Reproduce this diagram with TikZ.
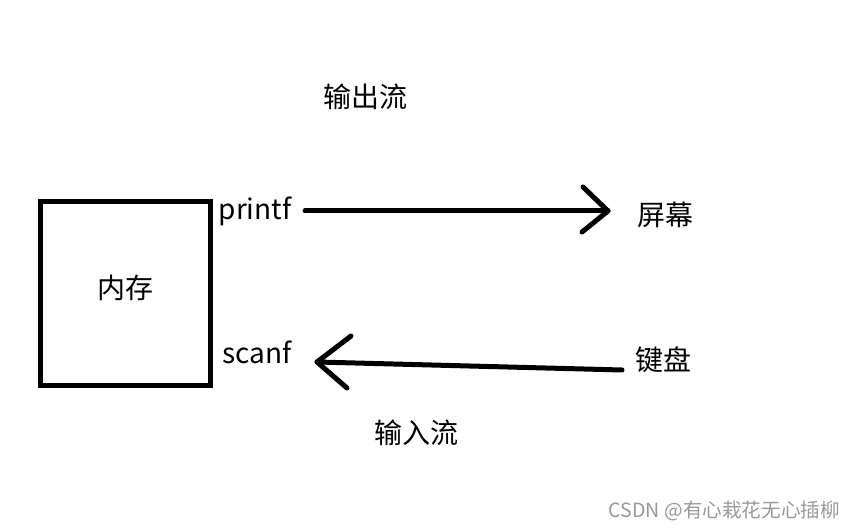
\documentclass[tikz,border=0pt]{standalone}
\usepackage{fontspec}
\setmainfont{Noto Sans CJK SC}
\begin{document}
\begin{tikzpicture}[x=1pt,y=-1pt,
  lbl/.style={inner sep=0pt,font=\fontsize{28}{30}\selectfont},
  wm/.style={inner sep=0pt,text=black!40,font=\fontsize{19.6}{21}\selectfont},
  pen/.style={line width=5pt,line cap=round,line join=round}]
\useasboundingbox[fill=white] (0,0) rectangle (854,529);
\node[draw,line width=5pt,minimum width=170pt,minimum height=184pt,inner sep=0pt] (mem) at (125.5,293.5) {};
\node[lbl] (memt) at (125,288) {内存};
\node[lbl] (out) at (365,97) {输出流};
\node[lbl] (printf) at (255,211) {printf};
\node[lbl] (screen) at (665,215) {屏幕};
\node[lbl] (scanf) at (257,352) {scanf};
\node[lbl] (kbd) at (663,360) {键盘};
\node[lbl] (in) at (416,433) {输入流};
\node[wm,anchor=east] (w) at (840,511) {CSDN @有心栽花无心插柳};
\coordinate (a1s) at (305,211);
\coordinate (a1e) at (608,211);
\coordinate (a2s) at (622,370);
\coordinate (a2e) at (317,362);
\draw[pen] (a1s) -- (a1e);
\draw[pen] (583,187) -- (a1e) -- (582,232);
\draw[pen] (a2s) -- (a2e);
\draw[pen] (351,336) -- (a2e) -- (347,388);
\end{tikzpicture}
\end{document}
